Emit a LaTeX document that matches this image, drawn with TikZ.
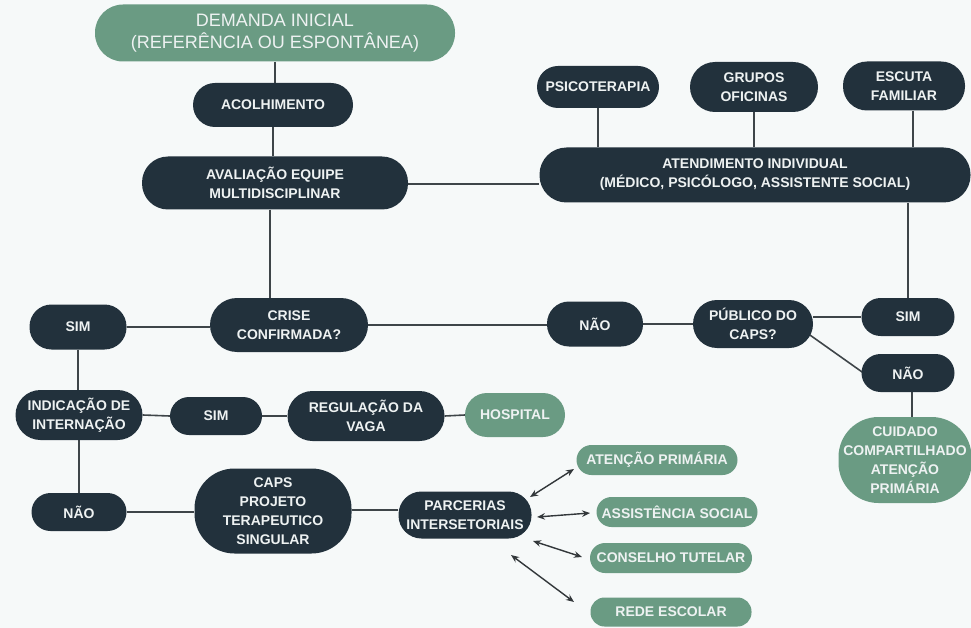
\documentclass[tikz,border=0pt]{standalone}
\usepackage{fontspec}
\setmainfont{Liberation Sans}
\usetikzlibrary{arrows.meta,backgrounds}
\definecolor{ink}{HTML}{22313C}
\definecolor{sage}{HTML}{6A9B83}
\definecolor{paper}{HTML}{F6F9F9}
\definecolor{wire}{HTML}{3E4549}
\definecolor{label}{HTML}{EEF2F2}

\begin{document}
\begin{tikzpicture}[x=1pt,y=-1pt,
  box/.style n args={3}{rectangle, minimum width=#1pt, minimum height=#2pt,
    rounded corners=#3pt, inner sep=0pt, align=center, text=label,
    font=\fontsize{14}{19}\selectfont\bfseries},
  dark/.style={fill=ink},
  green/.style={fill=sage},
  link/.style={draw=wire, line width=1.6pt},
  both/.style={draw=wire!80!black, line width=1.4pt,
    {Stealth[length=8pt,width=6.5pt]}-{Stealth[length=8pt,width=6.5pt]}}
]
\useasboundingbox (0,0) rectangle (971,628);

% entry and first assessment
\node[box={360}{57}{28}, green, font=\fontsize{18}{22}\selectfont] (dem) at (275,33)
  {DEMANDA INICIAL\\(REFERÊNCIA OU ESPONTÂNEA)};
\node[box={160}{44}{22}, dark] (aco) at (273,105) {ACOLHIMENTO};
\node[box={266}{53}{26}, dark] (ava) at (275,183) {AVALIAÇÃO EQUIPE\\MULTIDISCIPLINAR};

% individual care and its activities
\node[box={431}{55}{27}, dark] (atd) at (755,175)
  {ATENDIMENTO INDIVIDUAL\\(MÉDICO, PSICÓLOGO, ASSISTENTE SOCIAL)};
\node[box={122}{42}{21}, dark] (psi) at (598,87) {PSICOTERAPIA};
\node[box={128}{50}{25}, dark] (gru) at (754,87) {GRUPOS\\OFICINAS};
\node[box={122}{49}{24}, dark] (esc) at (904,86) {ESCUTA\\FAMILIAR};

% crisis decision
\node[box={158}{54}{27}, dark] (cri) at (289,325) {CRISE\\CONFIRMADA?};
\node[box={97}{45}{22}, dark] (sim1) at (78,327) {SIM};
\node[box={96}{45}{22}, dark] (nao1) at (595,324) {NÃO};
\node[box={120}{48}{24}, dark] (pub) at (753,324) {PÚBLICO DO\\CAPS?};
\node[box={93}{38}{19}, dark] (sim2) at (908,317) {SIM};
\node[box={93}{38}{19}, dark] (nao2) at (908,373) {NÃO};
\node[box={133}{86}{40}, green] (cui) at (905,460)
  {CUIDADO\\COMPARTILHADO\\ATENÇÃO\\PRIMÁRIA};

% hospitalisation branch
\node[box={127}{50}{25}, dark] (ind) at (79,415) {INDICAÇÃO DE\\INTERNAÇÃO};
\node[box={92}{38}{19}, dark] (sim3) at (216,416) {SIM};
\node[box={157}{50}{25}, dark] (reg) at (366,416) {REGULAÇÃO DA\\VAGA};
\node[box={100}{44}{22}, green] (hos) at (515,415) {HOSPITAL};

% CAPS follow-up and partners
\node[box={95}{38}{19}, dark] (nao3) at (79,512) {NÃO};
\node[box={157}{85}{40}, dark] (caps) at (273,511) {CAPS\\PROJETO\\TERAPEUTICO\\SINGULAR};
\node[box={133}{47}{23}, dark] (par) at (465,515) {PARCERIAS\\INTERSETORIAIS};
\node[box={161}{30}{15}, green] (atp) at (657,460) {ATENÇÃO PRIMÁRIA};
\node[box={161}{30}{15}, green] (ass) at (677,512) {ASSISTÊNCIA SOCIAL};
\node[box={162}{30}{15}, green] (con) at (671,558) {CONSELHO TUTELAR};
\node[box={161}{29}{14}, green] (red) at (671,612) {REDE ESCOLAR};

% arrow ends around the partnerships node
\coordinate (a1s) at (530,497); \coordinate (a1e) at (574,469);
\coordinate (a2s) at (537,517); \coordinate (a2e) at (590,513);
\coordinate (a3s) at (533,541); \coordinate (a3e) at (582,557);
\coordinate (a4s) at (511,555); \coordinate (a4e) at (574,602);

\begin{pgfonlayer}{background}
  \fill[paper] (0,0) rectangle (971,628);
  \draw[link] (dem.south) -- (dem.south |- aco.north);
  \draw[link] (aco.south) -- (aco.south |- ava.north);
  \draw[link] ([xshift=-5pt]ava.south) -- ([xshift=-5pt]ava.south |- cri.north);
  \draw[link] ([yshift=-1pt]ava.east) -- ([yshift=-1pt]ava.east -| atd.west);
  \draw[link] (psi.south) -- (psi.south |- atd.north);
  \draw[link] (gru.south) -- (gru.south |- atd.north);
  \draw[link] ([xshift=9pt]esc.south) -- ([xshift=9pt]esc.south |- atd.north);
  \draw[link] (sim2.north) -- (sim2.north |- atd.south);
  \draw[link] (sim1.east) -- (sim1.east -| cri.west);
  \draw[link] (cri.east) -- (cri.east -| nao1.west);
  \draw[link] (nao1.east) -- (pub.west);
  \draw[link] (sim2.west) -- (sim2.west -| pub.east);
  \draw[link] ([shift={(47,4)}]pub.center) -- ([shift={(-36,6)}]nao2.center);
  \draw[link] ([xshift=4pt]nao2.south) -- ([xshift=4pt]nao2.south |- cui.north);
  \draw[link] (sim1.south) -- (sim1.south |- ind.north);
  \draw[link] (ind.east) -- (sim3.west);
  \draw[link] (sim3.east) -- (reg.west);
  \draw[link] (reg.east) -- (hos.west);
  \draw[link] (ind.south) -- (ind.south |- nao3.north);
  \draw[link] (nao3.east) -- (nao3.east -| caps.west);
  \draw[link] ([yshift=1pt]caps.east) -- ([yshift=1pt]caps.east -| par.west);
\end{pgfonlayer}

\draw[both] (a1s) -- (a1e);
\draw[both] (a2s) -- (a2e);
\draw[both] (a3s) -- (a3e);
\draw[both] (a4s) -- (a4e);
\end{tikzpicture}
\end{document}
